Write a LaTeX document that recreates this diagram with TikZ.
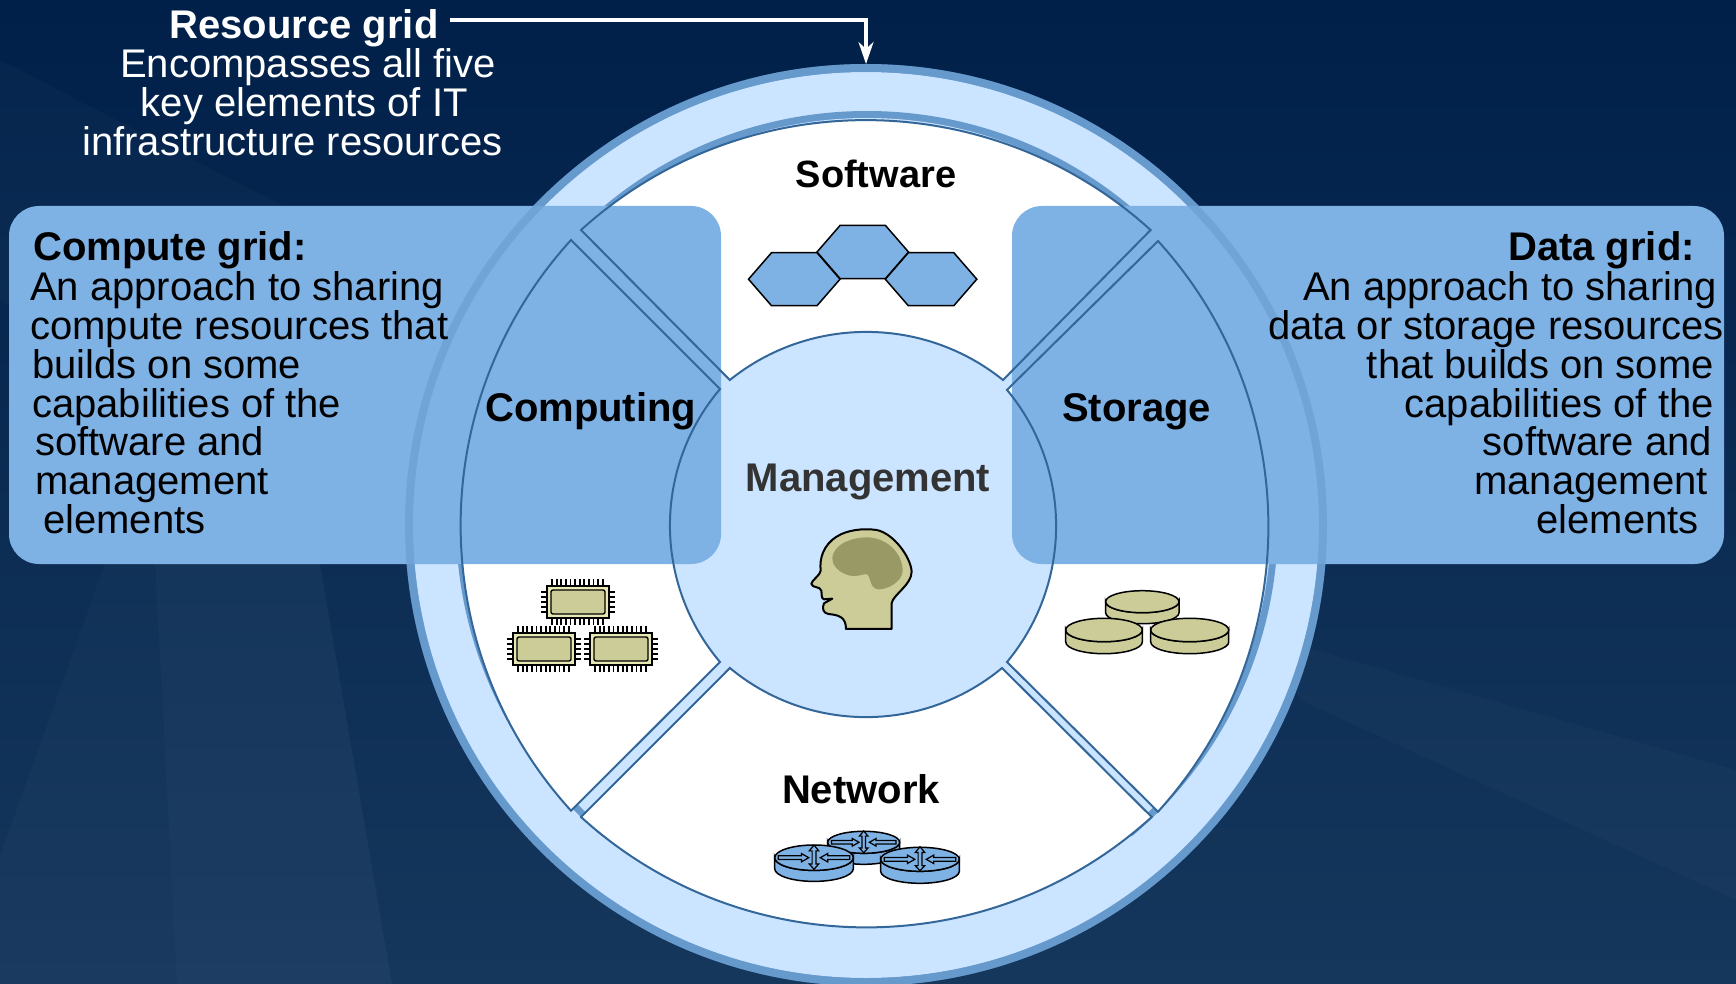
\documentclass[tikz,border=0pt]{standalone}
\usepackage{fontspec}
\setmainfont{Liberation Sans}
\usetikzlibrary{arrows.meta}
\definecolor{panelblue}{HTML}{7EB1E4}
\definecolor{lightblue}{HTML}{CBE4FF}
\definecolor{bandblue}{HTML}{6699CC}
\definecolor{lineblue}{HTML}{336699}
\definecolor{khaki}{HTML}{CCCC99}
\definecolor{khakidark}{HTML}{999966}
\definecolor{chipbody}{HTML}{E8E8B4}
\definecolor{bgtop}{HTML}{00204A}
\definecolor{bgbot}{HTML}{16375C}
\tikzset{
  txt/.style={font=\fontsize{40}{40}\selectfont,text=black,inner sep=0pt},
  wtxt/.style={txt,text=white},
  west/.style={anchor=base west},
  east/.style={anchor=base east},
  mid/.style={anchor=base},
  bld/.style={font=\fontsize{40}{40}\selectfont\bfseries},
  sector/.style={fill=white},
  sectorline/.style={draw=lineblue,line width=2pt,line join=miter},
  icon/.style={draw=black,line width=1.5pt},
  streak/.style={fill=white,fill opacity=0.02,draw=none},
}
\newcommand{\sectop}{(581,230) arc[start angle=-132.2,end angle=-47.8,radius=424] -- (1003,380) arc[start angle=-51.2,end angle=-128.8,radius=218] -- cycle}
\newcommand{\secbot}{(581,817) arc[start angle=132.3,end angle=47.7,radius=424] -- (1002,668) arc[start angle=50.3,end angle=129.7,radius=213] -- cycle}
\newcommand{\secleft}{(571,240) arc[start angle=222.3,end angle=137.7,radius=424] -- (720,662) arc[start angle=139.7,end angle=220.3,radius=211] -- cycle}
\newcommand{\secright}{(1158,241) arc[start angle=-42.3,end angle=42.3,radius=424] -- (1007,662) arc[start angle=39.7,end angle=-39.7,radius=213] -- cycle}
\newcommand{\cylshape}[6]{%
  \filldraw[icon,fill=#6] (#1-#3,#2) -- (#1-#3,#2+#5) arc[start angle=180,end angle=0,x radius=#3,y radius=#4] -- (#1+#3,#2) arc[start angle=0,end angle=180,x radius=#3,y radius=#4] -- cycle;
  \filldraw[icon,fill=#6] (#1,#2) ellipse[x radius=#3,y radius=#4];
}
\newcommand{\routerarrows}[3]{%
  \begin{scope}[shift={(#1,#2)},x=#3pt,y=-#3pt,fill=panelblue,draw=black,line width=1.2pt]
    \filldraw (-34,-1.8) -- (-12,-1.8) -- (-12,-4) -- (-5,0) -- (-12,4) -- (-12,1.8) -- (-34,1.8) -- cycle;
    \filldraw (34,-1.8) -- (13,-1.8) -- (13,-4) -- (6,0) -- (13,4) -- (13,1.8) -- (34,1.8) -- cycle;
    \filldraw (0,-12) -- (4.5,-6.5) -- (1.8,-6.5) -- (1.8,6) -- (4.5,6) -- (0,11) -- (-4.5,6) -- (-1.8,6) -- (-1.8,-6.5) -- (-4.5,-6.5) -- cycle;
  \end{scope}
}
\newcommand{\chipshape}[2]{%
  \begin{scope}[shift={(#1,#2)}]
    \foreach \i in {0,...,11}{
      \draw[black,line width=1.8pt] ({5+\i*4.6},-7) -- ({5+\i*4.6},39);
    }
    \foreach \j in {0,...,4}{
      \draw[black,line width=1.8pt] (-6,{6+\j*5}) -- (68,{6+\j*5});
    }
    \filldraw[black,line width=1.4pt,fill=chipbody] (0,0) rectangle (62,32);
    \filldraw[black,line width=1.4pt,fill=khaki,rounded corners=2pt] (4,4) rectangle (58,28);
  \end{scope}
}
\begin{document}
\begin{tikzpicture}[x=1pt,y=-1pt]
\useasboundingbox (0,0) rectangle (1736,984);
\clip (0,0) rectangle (1736,984);
% background
\shade[top color=bgtop,bottom color=bgbot] (0,0) rectangle (1736,984);
\fill[streak] (0,60) -- (330,230) -- (160,420) -- (0,300) -- cycle;
\fill[streak] (0,856) -- (105,564) -- (155,564) -- (177,984) -- (0,984) -- cycle;
\fill[streak] (155,564) -- (320,564) -- (392,984) -- (177,984) -- cycle;
\fill[streak] (155,564) -- (320,564) -- (392,984) -- (177,984) -- cycle;
\fill[streak] (1280,640) -- (1736,770) -- (1736,900) -- (1300,700) -- cycle;
% rings
\fill[bandblue] (866,525) circle[radius=461];
\fill[lightblue] (866,525) circle[radius=453];
\fill[bandblue] (867,522) circle[radius=411];
\fill[lightblue] (867,522) circle[radius=404];
\fill[lightblue] (866,525) -- (866,525) ++(47:425) arc[start angle=47,end angle=133,radius=425] -- cycle;
% sectors
\fill[sector] \sectop;
\fill[sector] \secbot;
\fill[sector] \secleft;
\fill[sector] \secright;
% overlapping panels
\fill[panelblue,rounded corners=30pt] (9,206) rectangle (721,564);
\fill[panelblue,rounded corners=30pt] (1012,206) rectangle (1724,564);
\fill[bandblue,opacity=0.55,even odd rule] (866,525) circle[radius=461] (866,525) circle[radius=453];
% resource grid text and arrow
\node[wtxt,west,bld] (resgrid) at (169.4,38.2) {Resource grid};
\node[wtxt,west] (res1) at (120,77.5) {Encompasses all five};
\node[wtxt,west] (res2) at (140.6,116.5) {key elements of IT};
\node[wtxt,west] (res3) at (82,155.5) {infrastructure resources};
\coordinate (ringtop) at (866,64);
\draw[white,line width=3.2pt,-{Stealth[length=22pt,width=15pt,inset=7pt]}] (450,20) -- (866,20) -- (ringtop);
% compute grid text
\node[txt,west,bld] (cg0) at (33,260.5) {Compute grid:};
\node[txt,west] (cg1) at (30,300) {An approach to sharing};
\node[txt,west] (cg2) at (30,339) {compute resources that};
\node[txt,west] (cg3) at (32,378) {builds on some};
\node[txt,west] (cg4) at (32,417) {capabilities of the};
\node[txt,west] (cg5) at (35,455.5) {software and};
\node[txt,west] (cg6) at (35,494.5) {management};
\node[txt,west] (cg7) at (43,533) {elements};
% data grid text
\node[txt,east,bld] (dg0) at (1695,260.5) {Data grid:};
\node[txt,east] (dg1) at (1717,300) {An approach to sharing};
\node[txt,east] (dg2) at (1724,339) {data or storage resources};
\node[txt,east] (dg3) at (1714,378) {that builds on some};
\node[txt,east] (dg4) at (1714,417) {capabilities of the};
\node[txt,east] (dg5) at (1712,455.5) {software and};
\node[txt,east] (dg6) at (1708,494.5) {management};
\node[txt,east] (dg7) at (1699,533) {elements};
% sector outlines
\draw[sectorline] \sectop;
\draw[sectorline] \secbot;
\draw[sectorline] \secleft;
\draw[sectorline] \secright;
% labels
\node[txt,mid,bld,font=\fontsize{38}{38}\selectfont\bfseries] (software) at (876,188) {Software};
\node[txt,west,bld] (computing) at (485,421) {Computing};
\node[txt,west,bld] (storage) at (1062,421) {Storage};
\node[txt,mid,bld,text=black!80] (management) at (868,491) {Management};
\node[txt,mid,bld] (network) at (861,803) {Network};
% hexagons
\foreach \hx/\hy in {748.5/252.7,885.3/252.7,817/225.5}{
  \filldraw[icon,fill=panelblue] (\hx,\hy+26.5) -- (\hx+23,\hy) -- (\hx+68.5,\hy) -- (\hx+91.5,\hy+26.5) -- (\hx+68.5,\hy+53) -- (\hx+23,\hy+53) -- cycle;
}
% chips
\chipshape{547}{586}
\chipshape{513}{633}
\chipshape{590}{633}
% coins
\cylshape{1142.3}{601.7}{36.7}{11}{11}{khaki}
\cylshape{1104}{630}{38.3}{11.7}{12}{khaki}
\cylshape{1189.7}{630}{39}{11.7}{12}{khaki}
% routers
\cylshape{863.7}{842.3}{36}{11}{11}{panelblue}
\routerarrows{863.7}{842.3}{0.95}
\cylshape{814}{857.7}{39.3}{12.7}{11}{panelblue}
\routerarrows{814}{857.7}{1.05}
\cylshape{920}{859.3}{39.3}{12}{12}{panelblue}
\routerarrows{920}{859.3}{1.05}
% head
\begin{scope}[shift={(720,500)},x=0.3333pt,y=-0.3333pt]
  \filldraw[draw=black,line width=2pt,fill=khaki,line join=round]
    (378,387) -- (515,387) -- (515,310)
    .. controls (518,285) and (575,255) .. (575,215)
    .. controls (572,170) and (520,100) .. (470,90)
    .. controls (430,84) and (380,90) .. (350,110)
    .. controls (310,135) and (298,175) .. (302,212)
    .. controls (302,225) and (275,240) .. (274,252)
    .. controls (278,265) and (300,258) .. (304,272)
    .. controls (306,285) and (303,295) .. (312,298)
    -- (337,296) -- (312,310)
    .. controls (305,325) and (310,340) .. (325,342)
    .. controls (355,345) and (378,350) .. (378,387) -- cycle;
  \fill[khakidark]
    (337,175) .. controls (340,130) and (400,112) .. (440,112)
    .. controls (500,112) and (548,160) .. (548,212)
    .. controls (548,245) and (500,270) .. (475,268)
    .. controls (445,265) and (455,225) .. (438,222)
    .. controls (410,228) and (395,232) .. (375,222)
    .. controls (350,210) and (337,195) .. (337,175) -- cycle;
\end{scope}
\end{tikzpicture}
\end{document}
